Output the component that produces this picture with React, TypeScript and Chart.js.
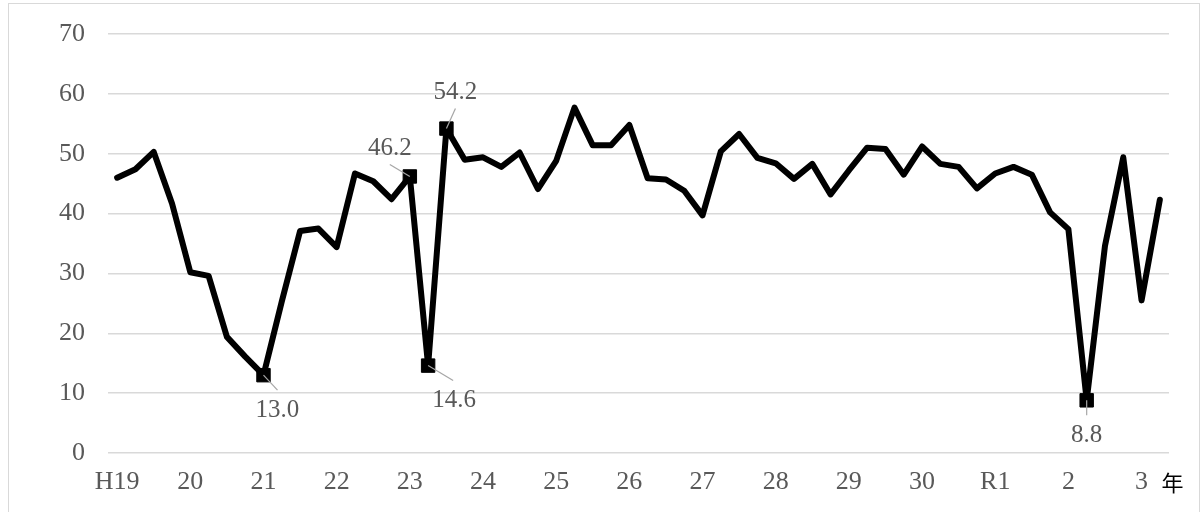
import React, { useEffect, useRef } from "react";
import { Chart, registerables } from "chart.js";

Chart.register(...registerables);

const yearLabels = ["H19", "20", "21", "22", "23", "24", "25", "26", "27", "28", "29", "30", "R1", "2", "3"];
const quarters = ["1", "2", "3", "4"];

const values = [
  46.0, 47.4, 50.3, 41.7,
  30.2, 29.6, 19.4, 16.1,
  13.0, 25.3, 37.1, 37.5,
  34.4, 46.7, 45.4, 42.4,
  46.2, 14.6, 54.2, 49.0,
  49.4, 47.8, 50.2, 44.1,
  48.8, 57.7, 51.4, 51.4,
  54.8, 45.9, 45.7, 43.8,
  39.7, 50.4, 53.3, 49.3,
  48.4, 45.8, 48.3, 43.2,
  47.2, 51.0, 50.8, 46.5,
  51.2, 48.3, 47.8, 44.2,
  46.7, 47.8, 46.5, 40.2,
  37.4, 8.8, 34.6, 49.4,
  25.5, 42.3,
];

const labelledIndices = [8, 16, 17, 18, 53];

const yTicks = [0, 10, 20, 30, 40, 50, 60, 70];
const axisUnit = "年";

const categories: string[] = [];
yearLabels.forEach((y) => quarters.forEach((q) => categories.push(`${y}-${q}`)));
categories.length = values.length;

// label placement (offsets from the marker, px)
const labelPlacement: Record<number, { dx: number; dy: number; lx1: number; ly1: number; lx2: number; ly2: number }> = {
  8: { dx: 14, dy: 35, lx1: 0, ly1: 0, lx2: 14, ly2: 15 },
  16: { dx: -20, dy: -28, lx1: -20, ly1: -12, lx2: 0, ly2: 0 },
  17: { dx: 26, dy: 35, lx1: 0, ly1: 0, lx2: 25, ly2: 15 },
  18: { dx: 9, dy: -36.5, lx1: 0, ly1: 0, lx2: 9, ly2: -20 },
  53: { dx: 0, dy: 35.5, lx1: 0, ly1: 0, lx2: 0, ly2: 15 },
};

const SERIF = "'Liberation Serif', 'DejaVu Serif', serif";
const TEXT_COLOR = "#595959";

const labelPlugin = {
  id: "dataLabels",
  afterDatasetsDraw(chart: any) {
    const ctx = chart.ctx as CanvasRenderingContext2D;
    const meta = chart.getDatasetMeta(0);
    ctx.save();
    labelledIndices.forEach((i) => {
      const p = meta.data[i];
      const pl = labelPlacement[i];
      if (!p || !pl) return;
      ctx.strokeStyle = "#a6a6a6";
      ctx.lineWidth = 1.2;
      ctx.beginPath();
      ctx.moveTo(p.x + pl.lx1, p.y + pl.ly1);
      ctx.lineTo(p.x + pl.lx2, p.y + pl.ly2);
      ctx.stroke();
      ctx.fillStyle = TEXT_COLOR;
      ctx.font = `25px ${SERIF}`;
      ctx.textAlign = "center";
      ctx.textBaseline = "middle";
      ctx.fillText(values[i].toFixed(1), p.x + pl.dx, p.y + pl.dy);
    });
    // unit label at end of x axis
    const area = chart.chartArea;
    ctx.fillStyle = "#000000";
    ctx.font = "22px 'Noto Sans CJK JP', sans-serif";
    ctx.textAlign = "center";
    ctx.textBaseline = "middle";
    ctx.fillText(axisUnit, area.right + 3.5, 483);
    ctx.restore();
  },
};

export default function App() {
  const canvasRef = useRef<HTMLCanvasElement | null>(null);

  useEffect(() => {
    if (!canvasRef.current) return;
    const chart = new Chart(canvasRef.current, {
      type: "line",
      data: {
        labels: categories,
        datasets: [
          {
            data: values,
            borderColor: "#000000",
            borderWidth: 6,
            borderJoinStyle: "round",
            borderCapStyle: "round",
            tension: 0,
            pointStyle: "rect",
            pointRadius: values.map((_, i) => (labelledIndices.includes(i) ? 9.5 : 0)),
            pointHoverRadius: 0,
            pointBackgroundColor: "#000000",
            pointBorderColor: "#000000",
            pointBorderWidth: 1,
          },
        ],
      },
      options: {
        responsive: false,
        animation: false,
        events: [],
        layout: { padding: { left: 0, right: 34, top: 34, bottom: 0 } },
        plugins: {
          legend: { display: false },
          tooltip: { enabled: false },
          title: { display: false },
        },
        scales: {
          x: {
            type: "category",
            offset: true,
            grid: { display: false, drawTicks: false },
            border: { display: false },
            ticks: {
              autoSkip: false,
              maxRotation: 0,
              minRotation: 0,
              padding: 13.5,
              color: TEXT_COLOR,
              font: { family: SERIF, size: 26, lineHeight: 1.2 },
              callback: (_v: any, i: number) => (i % 4 === 0 ? yearLabels[i / 4] : ""),
            },
            afterFit: (s: any) => {
              s.height = 59;
            },
          },
          y: {
            min: 0,
            max: 70,
            afterBuildTicks: (s: any) => {
              s.ticks = yTicks.map((v) => ({ value: v }));
            },
            grid: { color: "#d9d9d9", lineWidth: 1.5, drawTicks: false },
            border: { display: false },
            ticks: {
              padding: 23,
              color: TEXT_COLOR,
              font: { family: SERIF, size: 26, lineHeight: 1.2 },
            },
            afterFit: (s: any) => {
              s.width = 108;
              s.paddingTop = 0;
              s.paddingBottom = 0;
            },
          },
        },
      },
      plugins: [labelPlugin],
    });
    return () => chart.destroy();
  }, []);

  return (
    <div style={{ position: "absolute", left: 0, top: 0, width: 1203, height: 512, background: "#ffffff", overflow: "hidden" }}>
      <div
        style={{
          position: "absolute",
          left: 8,
          top: 3,
          width: 1192,
          height: 512,
          border: "1.5px solid #d9d9d9",
          boxSizing: "border-box",
        }}
      />
      <canvas ref={canvasRef} width={1203} height={512} style={{ position: "absolute", left: 0, top: 0, width: 1203, height: 512 }} />
    </div>
  );
}
